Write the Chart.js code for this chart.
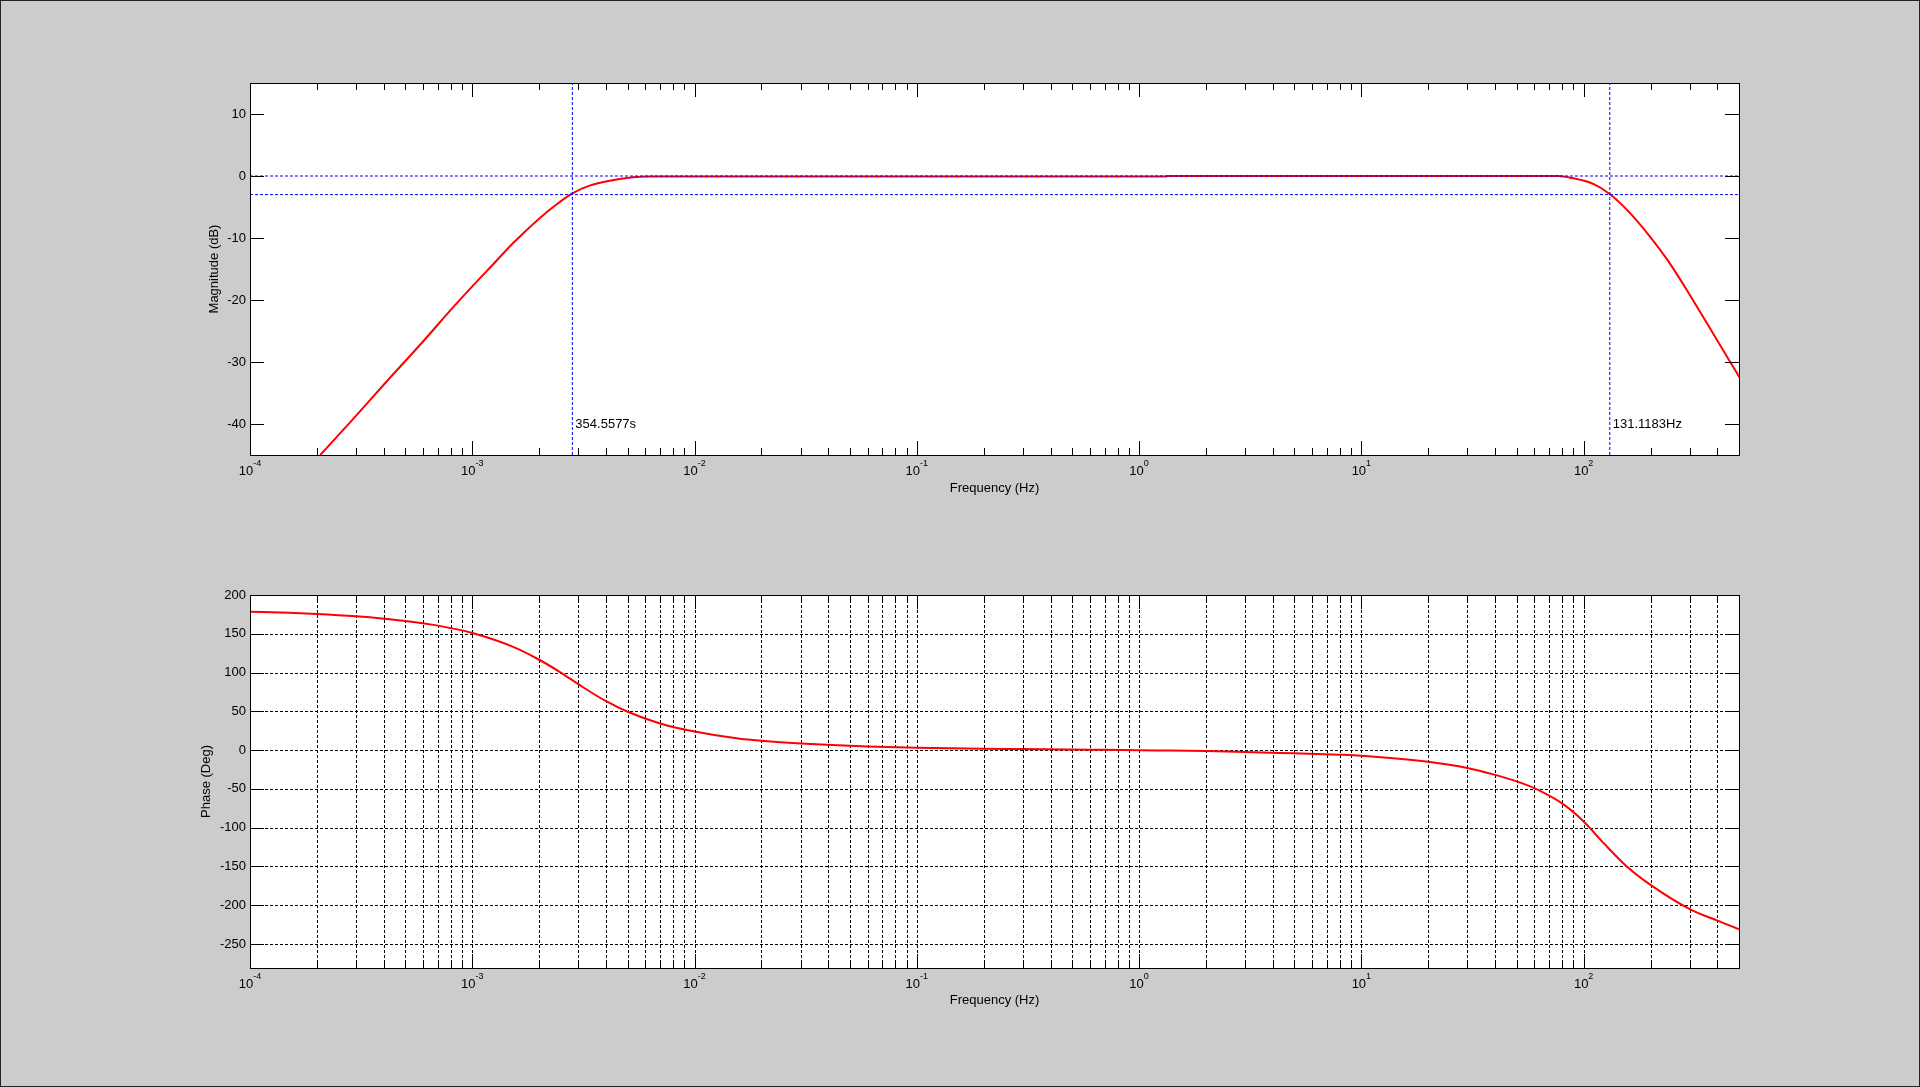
<!DOCTYPE html>
<html>
<head>
<meta charset="utf-8">
<title>Bode plot</title>
<script src="https://cdn.jsdelivr.net/npm/chart.js@4.4.1/dist/chart.umd.min.js"></script>
<style>
  html, body { margin: 0; padding: 0; background: #cccccc; }
  .fig { position: relative; width: 1920px; height: 1087px; background: #cccccc; box-sizing: border-box; border: 1px solid #222; overflow: hidden; }
  canvas { position: absolute; left: -1px; }
  #mag { top: -1px; }
  #phase { top: 539px; }
</style>
</head>
<body>
<div class="fig">
  <canvas id="mag" width="1920" height="540"></canvas>
  <canvas id="phase" width="1920" height="548"></canvas>
</div>
<script>
// frequency axis
var xMin = 1e-4;
var xMax = 500;
var decades = [1e-4, 1e-3, 1e-2, 1e-1, 1, 10, 100];
var decadeExp = [-4, -3, -2, -1, 0, 1, 2];

// magnitude (dB)
var magFreq = [2.07e-4, 2.86e-4, 4.08e-4, 5.8e-4, 8.19e-4, 1e-3, 1.26e-3, 1.52e-3, 1.98e-3, 2.39e-3, 2.82e-3, 3.37e-3, 4.15e-3, 5.28e-3, 6.28e-3, 1.32, 1.34, 77, 87, 111, 131, 161, 198, 242, 297, 365, 448, 503];
var magDb = [-45, -39.5, -33.3, -27.3, -21.2, -17.8, -14.0, -10.9, -7.0, -4.6, -2.8, -1.56, -0.76, -0.22, -0.1, -0.1, 0, 0, -0.27, -1.3, -2.9, -5.9, -9.7, -13.9, -18.9, -24.2, -29.5, -32.5];
var magTicks = [-40, -30, -20, -10, 0, 10];

// phase (deg)
var phaseFreq = [1e-4, 1.5e-4, 2e-4, 3e-4, 4e-4, 5e-4, 7e-4, 1e-3, 1.5e-3, 2e-3, 2.5e-3, 3e-3, 4e-3, 5e-3, 7e-3, 1e-2, 1.6e-2, 2e-2, 3e-2, 6e-2, 0.1, 0.2, 0.3, 0.6, 1.2, 2, 3, 5, 8, 10, 20, 30, 40, 50, 60, 80, 100, 124, 155, 200, 300, 400, 500];
var phaseDeg = [178.5, 177, 175.5, 172.5, 169.5, 166.5, 160.5, 151, 134, 116.5, 100, 85, 63, 49.5, 34.4, 24, 14.6, 12, 8.6, 4.7, 3, 1.7, 1.3, 0.5, -0.4, -1.2, -2.3, -4.2, -6, -7.3, -15, -23, -32, -40.4, -49, -68.8, -92, -121, -149, -173.8, -205, -220, -231];
var phaseTicks = [-250, -200, -150, -100, -50, 0, 50, 100, 150, 200];

// cut-off markers
var fLow = 1 / 354.5577;
var fHigh = 131.1183;
var notes = [
    { x: fLow, y: -40, text: '354.5577s' },
    { x: fHigh, y: -40, text: '131.1183Hz' }
];

var F = { family: '"Liberation Sans", Arial, sans-serif', size: 13, sup: 9 };
var half = F.size * 0.6;

Chart.defaults.font.family = F.family;
Chart.defaults.font.size = F.size;
Chart.defaults.color = '#000';

var minorTicks = [];
decades.forEach(function (d) {
    for (var m = 2; m <= 9; m++) {
        if (d * m <= xMax) minorTicks.push(d * m);
    }
});

function pts(xs, ys) {
    return xs.map(function (x, i) { return { x: x, y: ys[i] }; });
}

function crisp(v) {
    return Math.round(v) + 0.5;
}

var matlabAxes = {
    id: 'matlabAxes',
    beforeDraw: function (chart) {
        var a = chart.chartArea, ctx = chart.ctx;
        ctx.save();
        ctx.fillStyle = '#ffffff';
        ctx.fillRect(a.left, a.top, a.right - a.left, a.bottom - a.top);
        ctx.restore();
    },
    beforeDatasetsDraw: function (chart, args, opts) {
        if (!opts.grid) return;
        var a = chart.chartArea, ctx = chart.ctx;
        var xs = chart.scales.x, ys = chart.scales.y;
        ctx.save();
        ctx.strokeStyle = '#000';
        ctx.lineWidth = 1;
        ctx.setLineDash([3, 2]);
        ctx.beginPath();
        decades.concat(minorTicks).forEach(function (v) {
            var p = crisp(xs.getPixelForValue(v));
            if (p <= a.left + 1 || p >= a.right - 1) return;
            ctx.moveTo(p, a.top);
            ctx.lineTo(p, a.bottom);
        });
        opts.yTicks.forEach(function (v) {
            var p = crisp(ys.getPixelForValue(v));
            if (p <= a.top + 1 || p >= a.bottom - 1) return;
            ctx.moveTo(a.left, p);
            ctx.lineTo(a.right, p);
        });
        ctx.stroke();
        ctx.restore();
    },
    afterDatasetsDraw: function (chart, args, opts) {
        var a = chart.chartArea, ctx = chart.ctx;
        var xs = chart.scales.x, ys = chart.scales.y;
        ctx.save();
        ctx.strokeStyle = '#000';
        ctx.lineWidth = 1;
        ctx.setLineDash([]);
        ctx.beginPath();
        // inward ticks on all four sides
        decades.forEach(function (v) {
            var p = crisp(xs.getPixelForValue(v));
            ctx.moveTo(p, a.bottom); ctx.lineTo(p, a.bottom - 14);
            ctx.moveTo(p, a.top); ctx.lineTo(p, a.top + 14);
        });
        minorTicks.forEach(function (v) {
            var p = crisp(xs.getPixelForValue(v));
            ctx.moveTo(p, a.bottom); ctx.lineTo(p, a.bottom - 7);
            ctx.moveTo(p, a.top); ctx.lineTo(p, a.top + 7);
        });
        opts.yTicks.forEach(function (v) {
            var p = crisp(ys.getPixelForValue(v));
            ctx.moveTo(a.left, p); ctx.lineTo(a.left + 14, p);
            ctx.moveTo(a.right, p); ctx.lineTo(a.right - 14, p);
        });
        ctx.stroke();
        // box
        var l = crisp(a.left), t = crisp(a.top), r = crisp(a.right), b = crisp(a.bottom);
        ctx.strokeRect(l, t, r - l, b - t);

        // decade labels 10^n
        ctx.fillStyle = '#000';
        ctx.textBaseline = 'middle';
        ctx.textAlign = 'left';
        var yLab = a.bottom + 16;
        decades.forEach(function (v, i) {
            var p = xs.getPixelForValue(v);
            var sup = String(decadeExp[i]);
            ctx.font = F.size + 'px ' + F.family;
            var w1 = ctx.measureText('10').width;
            ctx.font = F.sup + 'px ' + F.family;
            var w2 = ctx.measureText(sup).width;
            var x0 = p - (w1 + w2) / 2;
            ctx.font = F.size + 'px ' + F.family;
            ctx.fillText('10', x0, yLab);
            ctx.font = F.sup + 'px ' + F.family;
            ctx.fillText(sup, x0 + w1, yLab - 7);
        });

        // cut-off notes
        ctx.font = F.size + 'px ' + F.family;
        (opts.notes || []).forEach(function (n) {
            ctx.fillText(n.text, xs.getPixelForValue(n.x) + 3, ys.getPixelForValue(n.y));
        });
        ctx.restore();
    }
};

function refLine(data) {
    return {
        data: data,
        borderColor: '#0000ff',
        borderWidth: 1,
        borderDash: [3, 2],
        pointRadius: 0,
        tension: 0,
        order: 1
    };
}

function xScale(titleBottom) {
    return {
        type: 'logarithmic',
        min: xMin,
        max: xMax,
        grid: { display: false, drawTicks: false },
        border: { display: false },
        ticks: { display: false },
        afterFit: null,
        title: {
            display: true,
            text: 'Frequency (Hz)',
            color: '#000',
            padding: { top: 0, bottom: titleBottom }
        }
    };
}

function yScale(min, max, ticks, text, titleLeft) {
    return {
        min: min,
        max: max,
        afterBuildTicks: function (s) {
            s.ticks = ticks.map(function (v) { return { value: v }; });
        },
        afterFit: function (s) { s.width = 250; },
        grid: { display: false, drawTicks: false },
        border: { display: false },
        ticks: {
            color: '#000',
            padding: 4,
            callback: function (v) { return String(v); }
        },
        title: {
            display: true,
            text: text,
            color: '#000',
            padding: { top: titleLeft - half, bottom: 0 }
        }
    };
}

// magnitude plot
var magX = xScale(51.5 - half);
magX.afterFit = function (s) { s.height = 85; };
var mag = new Chart(document.getElementById('mag'), {
    type: 'line',
    data: {
        datasets: [
            {
                label: 'Magnitude',
                data: pts(magFreq, magDb),
                borderColor: '#ff0000',
                borderWidth: 2,
                pointRadius: 0,
                cubicInterpolationMode: 'monotone',
                order: 2
            },
            refLine([{ x: xMin, y: 0 }, { x: xMax, y: 0 }]),
            refLine([{ x: xMin, y: -3 }, { x: xMax, y: -3 }]),
            refLine([{ x: fLow, y: -45 }, { x: fLow, y: 15 }]),
            refLine([{ x: fHigh, y: -45 }, { x: fHigh, y: 15 }])
        ]
    },
    options: {
        responsive: false,
        animation: false,
        layout: { padding: { left: 0, right: 181, top: 83, bottom: 0 } },
        plugins: {
            legend: { display: false },
            tooltip: { enabled: false },
            matlabAxes: { grid: false, yTicks: magTicks, notes: notes }
        },
        scales: {
            x: magX,
            y: yScale(-45, 15, magTicks, 'Magnitude (dB)', 214.4)
        }
    },
    plugins: [matlabAxes]
});

// phase plot
var phX = xScale(88 - half);
phX.afterFit = function (s) { s.height = 120; };
var phase = new Chart(document.getElementById('phase'), {
    type: 'line',
    data: {
        datasets: [
            {
                label: 'Phase',
                data: pts(phaseFreq, phaseDeg),
                borderColor: '#ff0000',
                borderWidth: 2,
                pointRadius: 0,
                cubicInterpolationMode: 'monotone'
            }
        ]
    },
    options: {
        responsive: false,
        animation: false,
        layout: { padding: { left: 0, right: 181, top: 55, bottom: 0 } },
        plugins: {
            legend: { display: false },
            tooltip: { enabled: false },
            matlabAxes: { grid: true, yTicks: phaseTicks }
        },
        scales: {
            x: phX,
            y: yScale(-281, 200, phaseTicks, 'Phase (Deg)', 206.9)
        }
    },
    plugins: [matlabAxes]
});
</script>
</body>
</html>
